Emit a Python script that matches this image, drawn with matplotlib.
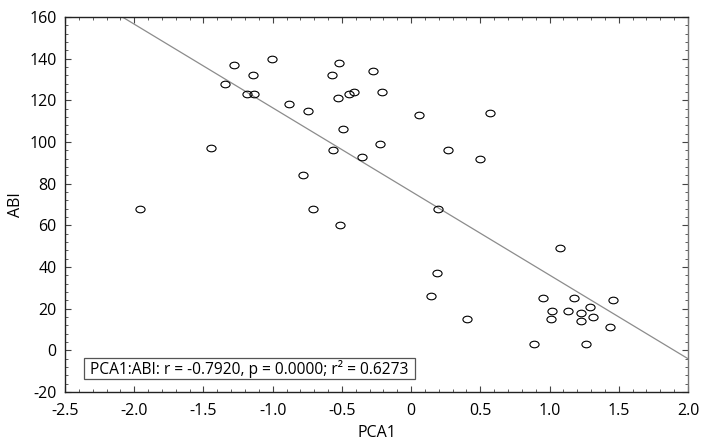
import numpy as np
import matplotlib
matplotlib.use("Agg")
import matplotlib.pyplot as plt
from matplotlib.path import Path
from matplotlib.transforms import Affine2D
from matplotlib.ticker import MultipleLocator
from matplotlib.patches import Rectangle

pca1 = [-1.96, -1.443, -1.342, -1.279, -1.183, -1.134, -1.144, -1.002, -0.882, -0.744,
        -0.783, -0.706, -0.573, -0.523, -0.530, -0.494, -0.564, -0.515, -0.448, -0.412,
        -0.356, -0.277, -0.210, 0.055, 0.571, -0.224, 0.265, 0.496, 0.195, 1.079,
        0.188, 0.147, 0.407, 0.951, 1.175, 1.459, 1.293, 1.016, 1.131, 1.225,
        1.317, 1.009, 1.225, 1.433, 0.889, 1.262]
abi = [68, 97, 128, 137, 123, 123, 132, 140, 118, 115,
       84, 68, 132, 138, 121, 106, 96, 60, 123, 124,
       93, 134, 124, 113, 114, 99, 96, 92, 68, 49,
       37, 26, 15, 25, 25, 24, 21, 19, 19, 18,
       16, 15, 14, 11, 3, 3]
x_tick_labels = ['-2.5', '-2.0', '-1.5', '-1.0', '-0.5', '0', '0.5', '1.0', '1.5', '2.0']
annotation = "PCA1:ABI: r = -0.7920, p = 0.0000; r\u00b2 = 0.6273"

plt.rcParams['font.family'] = ['Open Sans', 'DejaVu Sans']
plt.rcParams['axes.unicode_minus'] = False

fig = plt.figure(figsize=(7.18, 4.44), dpi=100)
ax = fig.add_axes([65/718, 1-392/444, (688-65)/718, (392-17)/444])

circ = Path.unit_circle()
ell = Affine2D().scale(1.0, 0.72).transform_path(circ)
ax.plot(pca1, abi, linestyle='none', marker=ell, markersize=6.6,
        markerfacecolor='none', markeredgecolor='black', markeredgewidth=0.8, zorder=3)

slope, intercept = np.polyfit(pca1, abi, 1)
xs = np.array([-2.5, 2.0])
ax.plot(xs, slope*xs + intercept, color='#8c8c8c', linewidth=0.9, zorder=2)

ax.set_xlim(-2.5, 2.0)
ax.set_ylim(-20, 160)
ax.xaxis.set_minor_locator(MultipleLocator(0.1))
ax.yaxis.set_major_locator(MultipleLocator(20))
ax.yaxis.set_minor_locator(MultipleLocator(4))
ax.set_xticks(np.arange(-2.5, 2.01, 0.5))
ax.set_xticklabels(x_tick_labels)
ax.tick_params(which='both', direction='in', top=True, right=True, labelsize=11.5,
               color='#444444')
ax.tick_params(which='major', length=4, width=0.8, pad=6)
ax.tick_params(axis='x', which='major', pad=8)
ax.tick_params(which='minor', length=2, width=0.6)
for s in ax.spines.values():
    s.set_linewidth(1.0)
    s.set_color('#222222')
ax.spines['right'].set_color('#777777')

ax.set_xlabel('PCA1', fontsize=11.5, labelpad=4)
ax.set_ylabel('ABI', fontsize=11.5, labelpad=4)

bx0, bx1 = (84-65)/623, (415-65)/623
by0, by1 = (392-379)/375, (392-358)/375
ax.add_patch(Rectangle((bx0, by0), bx1-bx0, by1-by0, transform=ax.transAxes,
                       facecolor='white', edgecolor='#555555', linewidth=0.9, zorder=4))
ax.text((bx0+bx1)/2, (by0+by1)/2, annotation, transform=ax.transAxes, fontsize=11.2,
        va='center', ha='center', zorder=5)

fig.savefig('out.png', dpi=100)
